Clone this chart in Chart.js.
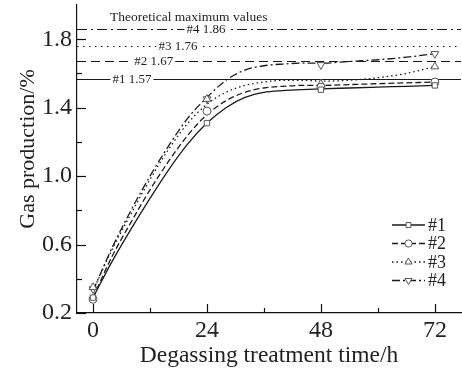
<!DOCTYPE html>
<html>
<head>
<meta charset="utf-8">
<script src="https://cdn.jsdelivr.net/npm/chart.js@4.4.1/dist/chart.umd.min.js"></script>
<style>
html,body{margin:0;padding:0;background:#fff;}
#wrap{width:462px;height:368px;}
</style>
</head>
<body>
<div id="wrap"><canvas id="c" width="462" height="368"></canvas></div>
<script>
// ---- data ----
const seriesNames = ['#1', '#2', '#3', '#4'];
const hours = [0, 24, 48, 72];
const gas1 = [0.29, 1.31, 1.505, 1.53];
const gas2 = [0.28, 1.38, 1.52, 1.55];
const gas3 = [0.35, 1.45, 1.54, 1.64];
const gas4 = [0.34, 1.45, 1.65, 1.715];

// fitted curves as drawn in the reference
const fitHours = [0, 4, 8, 12, 16, 20, 24, 28, 32, 36, 40, 44, 48, 54, 60, 66, 72];
const fit1 = [0.29, 0.50, 0.69, 0.87, 1.04, 1.19, 1.31, 1.40, 1.46, 1.49, 1.50, 1.505, 1.51, 1.515, 1.52, 1.525, 1.53];
const fit2 = [0.29, 0.53, 0.73, 0.92, 1.09, 1.24, 1.36, 1.44, 1.49, 1.515, 1.525, 1.53, 1.53, 1.535, 1.54, 1.545, 1.55];
const fit3 = [0.33, 0.57, 0.78, 0.98, 1.16, 1.31, 1.42, 1.49, 1.53, 1.55, 1.56, 1.56, 1.555, 1.56, 1.575, 1.60, 1.64];
const fit4 = [0.33, 0.58, 0.80, 1.00, 1.18, 1.34, 1.46, 1.56, 1.62, 1.645, 1.655, 1.66, 1.66, 1.67, 1.68, 1.695, 1.715];

const theoMax = [1.57, 1.67, 1.76, 1.86];
const theoTitle = 'Theoretical maximum values';

const xTicks = [0, 12, 24, 36, 48, 60, 72];
const xLabeled = [0, 24, 48, 72];
const yTicks = [0.2, 0.4, 0.6, 0.8, 1.0, 1.2, 1.4, 1.6, 1.8];
const yLabeled = [0.2, 0.6, 1.0, 1.4, 1.8];
const xTitle = 'Degassing treatment time/h';
const yTitle = 'Gas production/%';

// ---- styles ----
const FONT = "'Liberation Serif', 'Times New Roman', serif";
const LINE = '#1a1a1a';
const MARK = '#555';
const dashes = [[], [6, 3], [1.5, 3], [8, 3, 2, 3]];
const refDashes = [[], [9, 5], [1.5, 4.5], [10, 4, 2, 4]];
const styles = [
  {pointStyle: 'rect', rotation: 0, radius: 3.8},
  {pointStyle: 'circle', rotation: 0, radius: 4},
  {pointStyle: 'triangle', rotation: 0, radius: 4.5},
  {pointStyle: 'triangle', rotation: 180, radius: 4.5}
];
const refLabelX = [8.2, 12.8, 17.9, 23.8]; // label centre, in hours

const gas = [gas1, gas2, gas3, gas4];
const fits = [fit1, fit2, fit3, fit4];

const datasets = [];
fits.forEach((f, i) => {
  datasets.push({
    label: seriesNames[i] + ' fit',
    data: fitHours.map((h, k) => ({x: h, y: f[k]})),
    showLine: true,
    borderColor: LINE, borderWidth: 1.3, borderDash: dashes[i],
    pointRadius: 0, pointHoverRadius: 0, fill: false, cubicInterpolationMode: 'monotone', order: 2
  });
});
gas.forEach((g, i) => {
  datasets.push({
    label: seriesNames[i],
    data: hours.map((h, k) => ({x: h, y: g[k]})),
    showLine: false,
    pointStyle: styles[i].pointStyle, rotation: styles[i].rotation,
    pointRadius: styles[i].radius, pointBorderWidth: 1,
    pointBorderColor: MARK, pointBackgroundColor: '#fff', order: 1
  });
});

const decor = {
  id: 'decor',
  beforeDatasetsDraw(chart) {
    const {ctx, chartArea: a, scales: {x, y}} = chart;
    ctx.save();
    // theoretical maximum lines
    theoMax.forEach((v, i) => {
      const py = Math.round(y.getPixelForValue(v)) + 0.5;
      ctx.strokeStyle = LINE; ctx.lineWidth = 1.2;
      ctx.setLineDash(refDashes[i]);
      ctx.beginPath(); ctx.moveTo(a.left, py); ctx.lineTo(a.right, py); ctx.stroke();
      ctx.setLineDash([]);
      const txt = seriesNames[i] + ' ' + v.toFixed(2);
      ctx.font = '13px ' + FONT;
      const w = ctx.measureText(txt).width;
      const cx = x.getPixelForValue(refLabelX[i]);
      ctx.fillStyle = '#fff';
      ctx.fillRect(cx - w / 2 - 2, py - 7, w + 4, 14);
      ctx.fillStyle = '#222'; ctx.textAlign = 'center'; ctx.textBaseline = 'middle';
      ctx.fillText(txt, cx, py + 0.5);
    });
    ctx.font = '13.5px ' + FONT;
    ctx.fillStyle = '#222'; ctx.textAlign = 'left'; ctx.textBaseline = 'middle';
    ctx.fillText(theoTitle, a.left + 33, 17);
    ctx.restore();
  },
  afterDraw(chart) {
    const {ctx, chartArea: a, scales: {x, y}} = chart;
    ctx.save();
    ctx.strokeStyle = '#111'; ctx.lineWidth = 1.2;
    xTicks.forEach(v => {
      const px = Math.round(x.getPixelForValue(v)) + 0.5;
      const len = xLabeled.includes(v) ? 9 : 5;
      ctx.beginPath(); ctx.moveTo(px, a.bottom); ctx.lineTo(px, a.bottom - len); ctx.stroke();
    });
    yTicks.forEach(v => {
      const py = Math.round(y.getPixelForValue(v)) + 0.5;
      const len = yLabeled.some(t => Math.abs(t - v) < 1e-9) ? 9 : 5;
      ctx.beginPath(); ctx.moveTo(a.left, py); ctx.lineTo(a.left + len, py); ctx.stroke();
    });
    // y title
    ctx.save();
    ctx.translate(28, (a.top + a.bottom) / 2 - 10);
    ctx.rotate(-Math.PI / 2);
    ctx.fillStyle = '#222'; ctx.font = '22px ' + FONT;
    ctx.textAlign = 'center'; ctx.textBaseline = 'middle';
    ctx.fillText(yTitle, 0, 0);
    ctx.restore();
    // legend
    const lx0 = a.right - 69, lx1 = a.right - 36, ly0 = 225, dy = 18.5;
    seriesNames.forEach((n, i) => {
      const py = ly0 + i * dy;
      ctx.strokeStyle = LINE; ctx.lineWidth = 1.3; ctx.setLineDash(dashes[i]);
      ctx.beginPath(); ctx.moveTo(lx0, py); ctx.lineTo(lx1, py); ctx.stroke();
      ctx.setLineDash([]);
      const mx = (lx0 + lx1) / 2;
      ctx.fillStyle = '#fff'; ctx.strokeStyle = MARK; ctx.lineWidth = 1;
      Chart.helpers.drawPoint(ctx, {pointStyle: styles[i].pointStyle, rotation: styles[i].rotation,
        radius: styles[i].radius * 0.9, borderWidth: 1}, mx, py);
      ctx.fillStyle = '#222'; ctx.font = '18px ' + FONT;
      ctx.textAlign = 'left'; ctx.textBaseline = 'middle';
      ctx.fillText(n, lx1 + 3, py + 1);
    });
    ctx.restore();
  }
};

function zeroPad(s) { s.paddingTop = 0; s.paddingBottom = 0; s.paddingLeft = 0; s.paddingRight = 0; }

new Chart(document.getElementById('c'), {
  type: 'scatter',
  data: {datasets},
  options: {
    responsive: false, animation: false, devicePixelRatio: 1,
    layout: {autoPadding: false, padding: {top: 5, right: 1, left: 0, bottom: 0}},
    plugins: {legend: {display: false}, tooltip: {enabled: false}},
    events: [],
    scales: {
      x: {
        type: 'linear', min: -3.37, max: 77.5,
        afterBuildTicks: s => { s.ticks = xTicks.map(v => ({value: v})); },
        afterFit: s => { s.height = 55; zeroPad(s); },
        grid: {display: false, drawTicks: false},
        border: {display: true, color: '#111', width: 1.2},
        ticks: {
          color: '#222', font: {family: FONT, size: 24}, padding: 3, maxRotation: 0, autoSkip: false,
          callback: v => xLabeled.includes(v) ? String(v) : ''
        },
        title: {display: true, text: xTitle, color: '#222',
          font: {family: FONT, size: 23.5}, padding: {top: 0, bottom: -2}}
      },
      y: {
        type: 'linear', min: 0.2, max: 2.0,
        afterBuildTicks: s => { s.ticks = yTicks.map(v => ({value: v})); },
        afterFit: s => { s.width = 77; zeroPad(s); },
        grid: {display: false, drawTicks: false},
        border: {display: true, color: '#111', width: 1.2},
        ticks: {
          color: '#222', font: {family: FONT, size: 24}, padding: 5, autoSkip: false,
          callback: v => yLabeled.some(t => Math.abs(t - v) < 1e-9) ? v.toFixed(1) : ''
        },
        title: {display: false}
      }
    }
  },
  plugins: [decor]
});
</script>
</body>
</html>
